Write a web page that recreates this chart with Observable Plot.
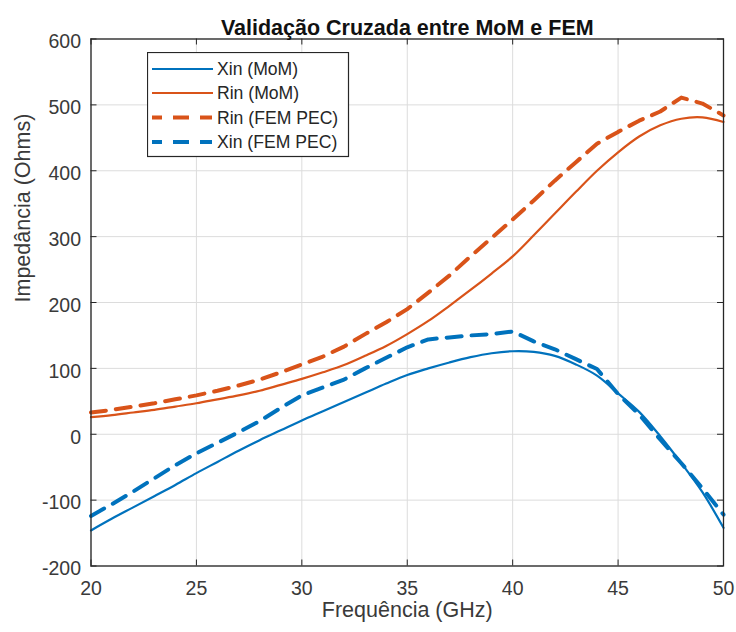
<!DOCTYPE html>
<html>
<head>
<meta charset="utf-8">
<script src="https://cdn.jsdelivr.net/npm/d3@7"></script>
<script src="https://cdn.jsdelivr.net/npm/@observablehq/plot@0.6"></script>
<style>
  html, body { margin: 0; padding: 0; background: #fff; }
  #wrap { position: relative; width: 736px; height: 632px; font-family: "Liberation Sans", Arial, Helvetica, sans-serif; }
  #legend { position: absolute; left: 147px; top: 52px; }
</style>
</head>
<body>
<div id="wrap"><div id="chart"></div><div id="legend"></div></div>
<script>
// ---- data ----
const freq = [20,21,22,23,24,25,26,27,28,29,30,31,32,33,34,35,36,37,38,39,40,41,42,43,44,45,46,47,48,49,50];
const xinMoM = [-146,-128,-111,-94,-77,-59,-42,-25,-9,6,21,35,49,63,77,90,100,109,117,123,126,125,119,106,89,62,34,-3,-44,-88,-142];
const rinMoM = [26,29,33,37,42,47,53,59,66,75,84,94,105,119,134,152,172,195,219,244,270,302,335,368,400,428,452,469,479,481,474];
const rinFEM = [33,37,42,47,53,59,66,74,83,94,106,118,133,152,170,190,215,241,270,298,326,355,385,413,441,459,476,490,511,502,484];
const xinFEM = [-124,-106,-87,-67,-47,-29,-13,3,20,40,59,71,83,100,116,132,144,147,150,152,156,141,129,114,99,61,30,-8,-44,-82,-122];
const seriesNames = ["Xin (MoM)", "Rin (MoM)", "Rin (FEM PEC)", "Xin (FEM PEC)"];
const seriesValues = [xinMoM, rinMoM, rinFEM, xinFEM];
const xTicks = [20,25,30,35,40,45,50];
const yTicks = [-200,-100,0,100,200,300,400,500,600];
const title = "Validação Cruzada entre MoM e FEM";
const xLabel = "Frequência (GHz)";
const yLabel = "Impedância (Ohms)";

// ---- styles ----
const blue = "#0072BD", orange = "#D95319";
const styles = [
  {stroke: blue, strokeWidth: 2.2, dash: null, curve: "catmull-rom"},
  {stroke: orange, strokeWidth: 2.2, dash: null, curve: "catmull-rom"},
  {stroke: orange, strokeWidth: 4, dash: "15,10", curve: "linear"},
  {stroke: blue, strokeWidth: 4, dash: "15,10", curve: "linear"}
];
const axisColor = "#262626";

const W = 736, H = 632;
const mL = 90.5, mR = 13, mT = 38.5, mB = 66.5;
const plotW = W - mL - mR, plotH = H - mT - mB;
const tickLen = 6;

const lineMarks = seriesValues.map((vals, i) => {
  const rows = freq.map((f, j) => ({f, v: vals[j]}));
  const s = styles[i];
  return Plot.line(rows, {x: "f", y: "v", stroke: s.stroke, strokeWidth: s.strokeWidth,
    strokeDasharray: s.dash ?? undefined, curve: s.curve, strokeLinejoin: "round"});
});

const chart = Plot.plot({
  width: W, height: H,
  marginLeft: mL, marginRight: mR, marginTop: mT, marginBottom: mB,
  style: {fontFamily: "'Liberation Sans', Arial, Helvetica, sans-serif", background: "#fff", color: axisColor, overflow: "visible"},
  x: {domain: [20, 50]},
  y: {domain: [-200, 600]},
  marks: [
    Plot.gridX(xTicks, {stroke: "#dcdcdc", strokeOpacity: 1, strokeWidth: 1}),
    Plot.gridY(yTicks, {stroke: "#dcdcdc", strokeOpacity: 1, strokeWidth: 1}),
    Plot.axisX(xTicks, {anchor: "bottom", tickSize: 0, tickPadding: 15, label: null, fontSize: 19.5, fill: "#3a3a3a", tickFormat: d => String(d)}),
    Plot.axisY(yTicks, {anchor: "left", tickSize: 0, tickPadding: 10, label: null, fontSize: 19.5, fill: "#3a3a3a", dy: 3, tickFormat: d => String(d)}),
    ...lineMarks,
    // inward ticks on all four sides
    Plot.tickX(xTicks, {x: d => d, insetTop: plotH - tickLen, stroke: axisColor, strokeWidth: 1}),
    Plot.tickX(xTicks, {x: d => d, insetBottom: plotH - tickLen, stroke: axisColor, strokeWidth: 1}),
    Plot.tickY(yTicks, {y: d => d, insetRight: plotW - tickLen, stroke: axisColor, strokeWidth: 1}),
    Plot.tickY(yTicks, {y: d => d, insetLeft: plotW - tickLen, stroke: axisColor, strokeWidth: 1}),
    Plot.frame({stroke: axisColor, strokeWidth: 1.3}),
    Plot.text([title], {frameAnchor: "top", dy: -19, fontSize: 21.5, fontWeight: "bold", fill: "#111"}),
    Plot.text([xLabel], {frameAnchor: "bottom", dy: 51, fontSize: 21.5, fill: "#3a3a3a"}),
    Plot.text([yLabel], {frameAnchor: "left", dx: -67.5, rotate: -90, fontSize: 21.5, fill: "#3a3a3a"})
  ]
});
document.getElementById("chart").appendChild(chart);

// ---- legend (overlay) ----
const lw = 201, lh = 104;
const leg = d3.select("#legend").append("svg").attr("width", lw + 2).attr("height", lh + 2);
leg.append("rect").attr("x", 0.5).attr("y", 0.5).attr("width", lw).attr("height", lh)
  .attr("fill", "#fff").attr("stroke", axisColor).attr("stroke-width", 1.2);
const rowY = [17, 41, 65.5, 90];
seriesNames.forEach((name, i) => {
  const s = styles[i];
  const l = leg.append("line").attr("x1", 5).attr("x2", 66).attr("y1", rowY[i]).attr("y2", rowY[i])
    .attr("stroke", s.stroke).attr("stroke-width", s.strokeWidth);
  if (s.dash) l.attr("stroke-dasharray", "10,11,16,11,12");
  leg.append("text").attr("x", 70).attr("y", rowY[i]).attr("dy", "0.35em")
    .attr("font-size", 17.6).attr("fill", "#262626")
    .attr("font-family", "'Liberation Sans', Arial, sans-serif").text(name);
});
</script>
</body>
</html>
